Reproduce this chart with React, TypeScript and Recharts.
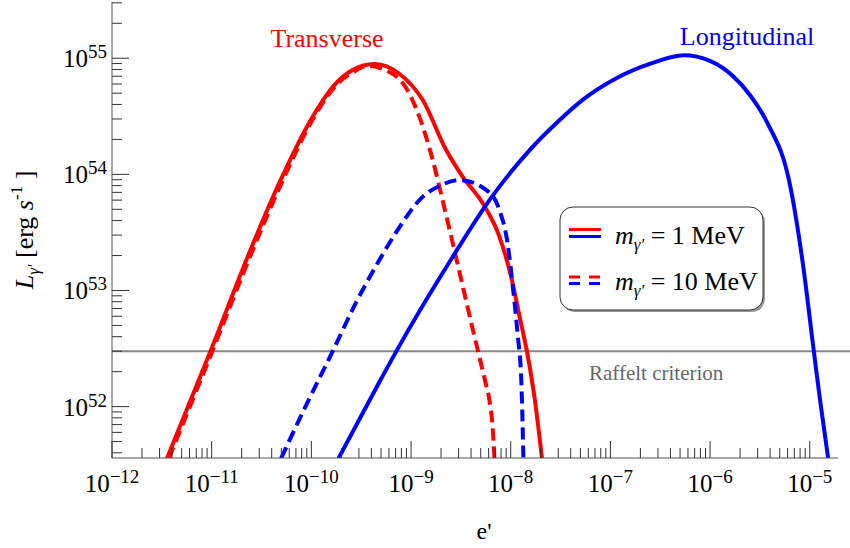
import React from 'react';
import { LineChart, Line, XAxis, YAxis, ReferenceLine, Customized } from 'recharts';

// values (e' on x, L in erg/s on y)
const transverse1MeV = [
  { x: 3.56e-12, y: 3.58e51 },
  { x: 9.77e-12, y: 3.03e52 },
  { x: 2.38e-11, y: 2.1e53 },
  { x: 4.74e-11, y: 8.36e53 },
  { x: 1.03e-10, y: 3.14e54 },
  { x: 1.76e-10, y: 6.08e54 },
  { x: 2.59e-10, y: 7.93e54 },
  { x: 4.28e-10, y: 8.93e54 },
  { x: 7.62e-10, y: 7.35e54 },
  { x: 1.31e-9, y: 4.37e54 },
  { x: 2.25e-9, y: 1.62e54 },
  { x: 3.3e-9, y: 9.53e53 },
  { x: 5.25e-9, y: 5.62e53 },
  { x: 7.71e-9, y: 2.9e53 },
  { x: 1.01e-8, y: 1.31e53 },
  { x: 1.23e-8, y: 5.92e52 },
  { x: 1.49e-8, y: 2.67e52 },
  { x: 1.73e-8, y: 1.21e52 },
  { x: 2.06e-8, y: 3.58e51 },
];

const transverse10MeV = [
  { x: 3.72e-12, y: 3.58e51 },
  { x: 1.02e-11, y: 3.03e52 },
  { x: 2.51e-11, y: 2.1e53 },
  { x: 5.01e-11, y: 8.36e53 },
  { x: 1.07e-10, y: 3.14e54 },
  { x: 1.82e-10, y: 6.0e54 },
  { x: 2.69e-10, y: 7.7e54 },
  { x: 3.64e-10, y: 8.58e54 },
  { x: 6.53e-10, y: 7.33e54 },
  { x: 8.91e-10, y: 5.55e54 },
  { x: 1.21e-9, y: 3.14e54 },
  { x: 1.65e-9, y: 1.33e54 },
  { x: 2.07e-9, y: 6.0e53 },
  { x: 2.62e-9, y: 2.56e53 },
  { x: 3.3e-9, y: 1.09e53 },
  { x: 4.16e-9, y: 4.64e52 },
  { x: 4.86e-9, y: 2.66e52 },
  { x: 5.58e-9, y: 1.62e52 },
  { x: 6.12e-9, y: 1.13e52 },
  { x: 6.56e-9, y: 6.9e51 },
  { x: 6.87e-9, y: 3.58e51 },
];

const longitudinal1MeV = [
  { x: 1.87e-10, y: 3.58e51 },
  { x: 4.8e-10, y: 1.62e52 },
  { x: 7.06e-10, y: 2.96e52 },
  { x: 2.62e-9, y: 1.95e53 },
  { x: 6.12e-9, y: 6.0e53 },
  { x: 1.55e-8, y: 1.62e54 },
  { x: 3.1e-8, y: 2.94e54 },
  { x: 5.27e-8, y: 4.38e54 },
  { x: 1.16e-7, y: 6.76e54 },
  { x: 2.48e-7, y: 8.93e54 },
  { x: 5.45e-7, y: 1.06e55 },
  { x: 9.96e-7, y: 9.48e54 },
  { x: 1.69e-6, y: 7.03e54 },
  { x: 2.51e-6, y: 4.83e54 },
  { x: 3.72e-6, y: 2.82e54 },
  { x: 6.34e-6, y: 8.09e53 },
  { x: 8.57e-6, y: 1.65e53 },
  { x: 1.08e-5, y: 3.37e52 },
  { x: 1.27e-5, y: 1.13e52 },
  { x: 1.53e-5, y: 3.58e51 },
];

const longitudinal10MeV = [
  { x: 4.97e-11, y: 3.59e51 },
  { x: 8.87e-11, y: 1.03e52 },
  { x: 1.62e-10, y: 2.94e52 },
  { x: 2.82e-10, y: 7.93e52 },
  { x: 4.8e-10, y: 1.82e53 },
  { x: 7.11e-10, y: 3.18e53 },
  { x: 1.3e-9, y: 6.37e53 },
  { x: 1.92e-9, y: 7.93e53 },
  { x: 3.05e-9, y: 8.93e53 },
  { x: 5.7e-9, y: 7.33e53 },
  { x: 7.71e-9, y: 4.92e53 },
  { x: 9.29e-9, y: 2.56e53 },
  { x: 1.04e-8, y: 1.16e53 },
  { x: 1.17e-8, y: 4.29e52 },
  { x: 1.28e-8, y: 1.59e52 },
  { x: 1.34e-8, y: 3.59e51 },
];

const raffeltLimit = 3e52;

const xDomain = [1e-12, 1.92e-5];
const yDomain = [3.61e51, 3.05e55];

const xMajorTicks = [1e-12, 1e-11, 1e-10, 1e-9, 1e-8, 1e-7, 1e-6, 1e-5];
const xTickLabels = ['\u221212', '\u221211', '\u221210', '\u22129', '\u22128', '\u22127', '\u22126', '\u22125'];
const yMajorTicks = [1e51, 1e52, 1e53, 1e54, 1e55];
const yTickLabels = ['51', '52', '53', '54', '55'];
const minorSteps = [2, 3, 4, 5, 6, 7, 8, 9];

const withMinors = (majors: number[], dom: number[]) => {
  const out: number[] = [];
  majors.forEach((m) => {
    out.push(m);
    minorSteps.forEach((k) => out.push(m * k));
  });
  return out.filter((v) => v >= dom[0] && v <= dom[1]);
};
const xTicks = withMinors(xMajorTicks, xDomain);
const yTicks = withMinors(yMajorTicks, yDomain);

const FONT = '"Liberation Serif", "Times New Roman", serif';
const TICK = '#333';
const FRAME = '#555';
const MAJOR = 17;
const MINOR = 10;

const BottomTick = (props: any) => {
  const { x, y, payload } = props;
  const i = xMajorTicks.indexOf(payload.value);
  return (
    <g>
      <line x1={x} y1={y} x2={x} y2={y - (i >= 0 ? MAJOR : MINOR)} stroke={TICK} />
      {i >= 0 && (
        <text x={x} y={y + 34} textAnchor="middle" fontFamily={FONT} fontSize={25} fill="#000">
          10<tspan dy={-9} fontSize={19}>{xTickLabels[i]}</tspan>
        </text>
      )}
    </g>
  );
};

const TopTick = (props: any) => {
  const { x, y, payload } = props;
  const major = xMajorTicks.indexOf(payload.value) >= 0;
  return <line x1={x} y1={y} x2={x} y2={y + (major ? MAJOR : MINOR)} stroke={TICK} />;
};

const LeftTick = (props: any) => {
  const { x, y, payload } = props;
  const i = yMajorTicks.indexOf(payload.value);
  return (
    <g>
      <line x1={x} y1={y} x2={x + (i >= 0 ? MAJOR : MINOR)} y2={y} stroke={TICK} />
      {i >= 0 && (
        <text x={x - 5} y={y + 9} textAnchor="end" fontFamily={FONT} fontSize={25} fill="#000">
          10<tspan dy={-9} fontSize={19}>{yTickLabels[i]}</tspan>
        </text>
      )}
    </g>
  );
};

const RightTick = (props: any) => {
  const { x, y, payload } = props;
  const major = yMajorTicks.indexOf(payload.value) >= 0;
  return <line x1={x} y1={y} x2={x - (major ? MAJOR : MINOR)} y2={y} stroke={TICK} />;
};

const RaffeltLine = (props: any) => {
  const { x1, y1, x2, y2 } = props;
  return <line x1={x1} y1={y1} x2={x2 + 12} y2={y2} stroke="#888" strokeWidth={2} />;
};

const Annotations = () => (
  <g fontFamily={FONT}>
    <text x={327} y={47} textAnchor="middle" fontSize={26} fill="#ff0000">Transverse</text>
    <text x={747} y={45} textAnchor="middle" fontSize={26} fill="#0000ff">Longitudinal</text>
    <text x={589} y={380} fontSize={21} fill="#666">Raffelt criterion</text>

    {/* axis titles */}
    <text x={484} y={539} textAnchor="middle" fontSize={24} fill="#000">e'</text>
    <text transform="translate(33,230) rotate(-90)" textAnchor="middle" fontSize={26} fill="#000">
      <tspan fontStyle="italic">L</tspan>
      <tspan fontStyle="italic" fontSize={17} dy={6}>{"\u03b3'"}</tspan>
      <tspan dy={-6}>{' [erg '}</tspan>
      <tspan fontStyle="italic">s</tspan>
      <tspan fontSize={17} dy={-11}>-1</tspan>
      <tspan dy={11}>{' ]'}</tspan>
    </text>

    {/* legend */}
    <rect x={562} y={209} width={203} height={103} rx={13} fill="#999" />
    <rect x={560} y={207} width={203} height={103} rx={13} fill="#fff" stroke="#333" strokeWidth={1} />
    <line x1={569} y1={229.5} x2={601} y2={229.5} stroke="#ff0000" strokeWidth={3} />
    <line x1={569} y1={236.5} x2={601} y2={236.5} stroke="#0000ff" strokeWidth={3} />
    <line x1={569} y1={277} x2={601} y2={277} stroke="#ff0000" strokeWidth={3} strokeDasharray="11 9" />
    <line x1={569} y1={283.5} x2={601} y2={283.5} stroke="#0000ff" strokeWidth={3} strokeDasharray="11 9" />
    <text x={615} y={244} fontSize={26} fill="#000">
      <tspan fontStyle="italic">m</tspan>
      <tspan fontStyle="italic" fontSize={17} dy={6}>{"\u03b3'"}</tspan>
      <tspan dy={-6}>{' = 1 MeV'}</tspan>
    </text>
    <text x={615} y={290} fontSize={26} fill="#000">
      <tspan fontStyle="italic">m</tspan>
      <tspan fontStyle="italic" fontSize={17} dy={6}>{"\u03b3'"}</tspan>
      <tspan dy={-6}>{' = 10 MeV'}</tspan>
    </text>
  </g>
);

export default function App() {
  return (
    <div style={{ position: 'absolute', left: 0, top: 0, width: 850, height: 548, background: '#fff' }}>
      <LineChart width={850} height={548} margin={{ top: 2, right: 12, bottom: 0, left: 0 }}>
        <XAxis
          xAxisId="bottom"
          dataKey="x"
          type="number"
          scale="log"
          domain={xDomain}
          allowDataOverflow
          ticks={xTicks}
          interval={0}
          height={90}
          tickSize={0}
          tickMargin={0}
          tickLine={false}
          axisLine={{ stroke: FRAME }}
          tick={<BottomTick />}
        />
        <XAxis
          xAxisId="top"
          orientation="top"
          dataKey="x"
          type="number"
          scale="log"
          domain={xDomain}
          allowDataOverflow
          ticks={xTicks}
          interval={0}
          height={0}
          tickSize={0}
          tickMargin={0}
          tickLine={false}
          axisLine={{ stroke: FRAME }}
          tick={<TopTick />}
        />
        <YAxis
          yAxisId="left"
          type="number"
          scale="log"
          domain={yDomain}
          allowDataOverflow
          ticks={yTicks}
          interval={0}
          width={112}
          tickSize={0}
          tickMargin={0}
          tickLine={false}
          axisLine={{ stroke: FRAME }}
          tick={<LeftTick />}
        />
        <YAxis
          yAxisId="right"
          orientation="right"
          type="number"
          scale="log"
          domain={yDomain}
          allowDataOverflow
          ticks={yTicks}
          interval={0}
          width={0}
          tickSize={0}
          tickMargin={0}
          tickLine={false}
          axisLine={{ stroke: FRAME }}
          tick={<RightTick />}
        />
        <ReferenceLine xAxisId="bottom" yAxisId="left" y={raffeltLimit} shape={<RaffeltLine />} />
        <Line xAxisId="bottom" yAxisId="left" data={transverse1MeV} dataKey="y" type="monotone"
          stroke="#ff0000" strokeWidth={4} dot={false} activeDot={false} isAnimationActive={false} />
        <Line xAxisId="bottom" yAxisId="left" data={transverse10MeV} dataKey="y" type="monotone"
          stroke="#ff0000" strokeWidth={4} strokeDasharray="12 6" dot={false} activeDot={false} isAnimationActive={false} />
        <Line xAxisId="bottom" yAxisId="left" data={longitudinal1MeV} dataKey="y" type="monotone"
          stroke="#0000ff" strokeWidth={4} dot={false} activeDot={false} isAnimationActive={false} />
        <Line xAxisId="bottom" yAxisId="left" data={longitudinal10MeV} dataKey="y" type="monotone"
          stroke="#0000ff" strokeWidth={4} strokeDasharray="12 6" dot={false} activeDot={false} isAnimationActive={false} />
        <Customized component={Annotations} />
      </LineChart>
    </div>
  );
}
